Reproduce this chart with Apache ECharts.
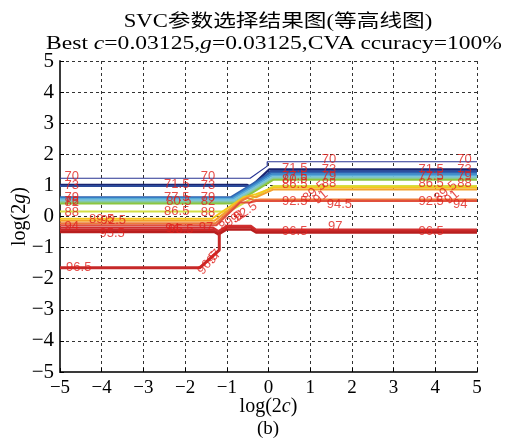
<!DOCTYPE html>
<html><head><meta charset="utf-8">
<script src="https://cdn.jsdelivr.net/npm/echarts@6/dist/echarts.min.js"></script>
<style>html,body{margin:0;padding:0;background:#fff}#c{width:505px;height:439px}</style>
</head><body><div id="c"></div>
<script>
// ---- data (log2c, log2g) ----
const xRange = [-5, 5];
const yRange = [-5, 5];
const levels = ['70','71.5','73','74.5','76','77.5','79','80.5','82','85','88','89.5','91','92.5','94','95.5','97','97'];
const c70   = [[-5,1.23],[-0.44,1.23],[-0.03,1.62],[-0.03,1.76],[5,1.76]];
const c71_5 = [[-5,1.02],[-0.52,1.02],[-0.42,0.96],[0.02,1.52],[5,1.52]];
const c73   = [[-5,0.98],[-0.5,0.98],[-0.4,0.93],[0.05,1.46],[5,1.46]];
const c74_5 = [[-5,0.62],[-0.9,0.62],[0.06,1.41],[5,1.41]];
const c76   = [[-5,0.59],[-0.88,0.59],[0.07,1.36],[5,1.36]];
const c77_5 = [[-5,0.56],[-0.86,0.56],[0.08,1.31],[5,1.31]];
const c79   = [[-5,0.52],[-0.84,0.52],[0.09,1.26],[5,1.26]];
const c80_5 = [[-5,0.47],[-0.82,0.47],[0.1,1.22],[5,1.22]];
const c82   = [[-5,0.42],[-0.8,0.42],[0.11,1.18],[5,1.18]];
const c85   = [[-5,0.16],[-0.95,0.16],[0.12,0.98],[5,0.98]];
const c88   = [[-5,-0.07],[-1.35,-0.07],[-0.6,0.62],[-0.3,0.72],[0.12,0.93],[5,0.93]];
const c89_5 = [[-5,-0.14],[-1.3,-0.14],[-0.62,0.55],[-0.45,0.66],[-0.3,0.62],[0.12,0.87],[5,0.87]];
const c91   = [[-5,-0.22],[-1.27,-0.22],[-0.65,0.5],[-0.5,0.6],[-0.35,0.52],[-0.2,0.55],[5,0.55]];
const c92_5 = [[-5,-0.28],[-1.25,-0.28],[-0.68,0.45],[-0.45,0.45],[-0.3,0.5],[5,0.5]];
const c94   = [[-5,-0.36],[-1.33,-0.36],[-1.2,-0.47],[-1.0,-0.3],[-0.42,-0.3],[-0.3,-0.42],[5,-0.42]];
const c95_5 = [[-5,-0.43],[-1.33,-0.43],[-1.2,-0.53],[-1.0,-0.36],[-0.42,-0.36],[-0.3,-0.47],[5,-0.47]];
const c97   = [[-5,-0.5],[-1.3,-0.5],[-1.2,-0.58],[-1.0,-0.42],[-0.42,-0.42],[-0.3,-0.52],[5,-0.52]];
const c97b  = [[-5,-1.65],[-1.65,-1.65],[-1.18,-1.08],[-1.18,-0.55]];

const labelX    = [-4.72,-4.72,-4.72,-4.72,-4.72,-4.72,-4.72,-4.55, -4.0,-3.72,-3.75, -2.2,-2.2,-2.15,-2.2,-2.3,-2.1, -1.45,-1.45,-1.45,-1.45,-1.45,-1.5, -0.9,-0.72,-0.55, -1.45,-1.3, 0.63,0.63,0.63,0.63,1.45,1.45,1.45,1.45,1.1,1.25,0.63,1.7,0.63,1.6, 3.9,3.9,3.9,4.7,4.7,4.7,4.7,4.25,4.4,3.9,4.6,3.9];
const labelY    = [1.28,1.0,0.62,0.5,0.45,0.13,-0.33,-1.65, -0.1,-0.12,-0.54, 1.02,0.6,0.5,0.17,-0.37,-0.4, 1.28,1.0,0.6,0.48,0.14,-0.36, -0.15,0.0,0.15, -1.5,-1.3, 1.55,1.3,1.18,1.02,1.82,1.5,1.28,1.05,0.8,0.62,0.5,0.4,-0.48,-0.33, 1.52,1.3,1.07,1.82,1.5,1.3,1.05,0.8,0.62,0.5,0.38,-0.48];
const labelText = ['70','73','79','76','82','88','94','96.5', '89.5','92.5','95.5', '71.5','77.5','80.5','86.5','94','95.5', '70','73','79','82','88','97', '89.5','91','92.5', '96.5','97', '71.5','77.5','80.5','86.5','70','73','79','88','89.5','91','92.5','94.5','96.5','97', '71.5','77.5','86.5','70','73','79','88','89.5','91','92.5','94','96.5'];
const labelRot  = [0,0,0,0,0,0,0,0, 0,0,0, 0,0,0,0,0,0, 0,0,0,0,0,0, 35,35,35, 50,50, 0,0,0,0,0,0,0,0,40,40,0,0,0,0, 0,0,0,0,0,0,0,40,40,0,0,0];

// ---- styles ----
const paths  = [c70,c71_5,c73,c74_5,c76,c77_5,c79,c80_5,c82,c85,c88,c89_5,c91,c92_5,c94,c95_5,c97,c97b];
const colors = ['#283593','#1a2470','#2c4a9a','#2f62b0','#3a86c8','#58aad8','#7cc4d8','#84c8a8','#8cc640','#d4df45','#f4c81c','#f4a22c','#ec7a3a','#e0503c','#d03030','#c82828','#b81e1e','#c62828'];
const widths = [1.2,2.2,2,2,2,2,2,2,2,2,2,2,2,2,2.2,2.2,2.2,3];

const serif = '"Liberation Serif","Times New Roman",serif';
const fmt = v => v < 0 ? '\u2212' + (-v) : String(v);

const series = paths.map((p, i) => ({
  type: 'line', name: levels[i], data: p, showSymbol: false, silent: true,
  lineStyle: { color: colors[i], width: widths[i] }, z: 2
}));
series.push({
  type: 'scatter', silent: true, symbolSize: 1, itemStyle: { color: 'rgba(0,0,0,0)' }, z: 10,
  data: labelX.map((x, i) => ({ value: [x, labelY[i]], name: labelText[i], label: { rotate: labelRot[i] } })),
  label: { show: true, position: 'inside', formatter: '{b}', color: '#e0201c', fontSize: 13, fontFamily: '"Liberation Sans",Arial,sans-serif' }
});

const chart = echarts.init(document.getElementById('c'), null, { renderer: 'canvas' });
chart.setOption({
  animation: false,
  backgroundColor: '#fff',
  grid: { left: 60, right: 28, top: 61, bottom: 67, containLabel: false, outerBoundsMode: 'none' },
  xAxis: {
    type: 'value', min: xRange[0], max: xRange[1], interval: 1,
    axisLine: { show: true, onZero: false, lineStyle: { color: '#3a3a3a', width: 2 } },
    axisTick: { show: true, inside: true, length: 4, lineStyle: { color: '#000' } },
    splitLine: { show: true, lineStyle: { color: '#333', type: [3, 3], width: 1 } },
    axisLabel: { fontFamily: serif, fontSize: 19, color: '#000', margin: 7, formatter: fmt },
    name: 'log(2{i|c})', nameLocation: 'middle', nameGap: 25, nameMoveOverlap: false,
    nameTextStyle: { fontFamily: serif, fontSize: 20, color: '#000',
      rich: { i: { fontStyle: 'italic', fontFamily: serif, fontSize: 20, color: '#000' } } }
  },
  yAxis: {
    type: 'value', min: yRange[0], max: yRange[1], interval: 1,
    axisLine: { show: true, onZero: false, lineStyle: { color: '#3a3a3a', width: 2 } },
    axisTick: { show: true, inside: true, length: 4, lineStyle: { color: '#000' } },
    splitLine: { show: true, lineStyle: { color: '#333', type: [3, 3], width: 1 } },
    axisLabel: { fontFamily: serif, fontSize: 21, color: '#000', margin: 6, formatter: fmt },
    name: 'log(2{i|g})', nameLocation: 'middle', nameGap: 30, nameMoveOverlap: false,
    nameTextStyle: { fontFamily: serif, fontSize: 20, color: '#000',
      rich: { i: { fontStyle: 'italic', fontFamily: serif, fontSize: 20, color: '#000' } } }
  },
  graphic: [
    { type: 'text', x: 278, y: 22, scaleX: 1.26, silent: true,
      style: { text: 'SVC参数选择结果图(等高线图)', fontFamily: '"Liberation Serif","Noto Sans CJK SC",serif', fontSize: 18, fill: '#000', align: 'center', verticalAlign: 'middle' } },
    { type: 'text', x: 274, y: 44, scaleX: 1.31, silent: true,
      style: { text: 'Best {i|c}=0.03125,{i|g}=0.03125,CVA ccuracy=100%', fontFamily: serif, fontSize: 18, fill: '#000', align: 'center', verticalAlign: 'middle',
        rich: { i: { fontStyle: 'italic', fontFamily: serif, fontSize: 18, fill: '#000' } } } },
    { type: 'text', x: 268, y: 429, silent: true,
      style: { text: '(b)', fontFamily: serif, fontSize: 19, fill: '#000', align: 'center', verticalAlign: 'middle' } }
  ],
  series: series
});
</script>
</body></html>
